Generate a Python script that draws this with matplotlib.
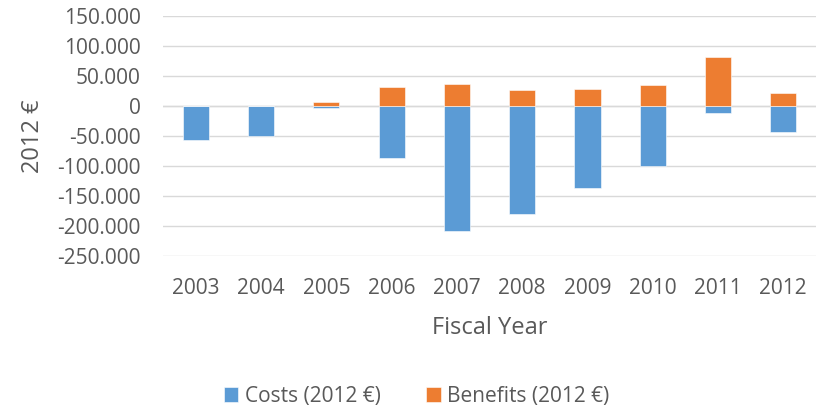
import numpy as np
import matplotlib.pyplot as plt
from matplotlib.ticker import FuncFormatter

plt.rcParams['font.family'] = ['Open Sans', 'DejaVu Sans']

# Yearly costs and benefits, in 2012 euros
years = ['2003', '2004', '2005', '2006', '2007',
         '2008', '2009', '2010', '2011', '2012']
costs = [-56000, -49500, -2800, -86700, -207800,
         -180600, -136100, -99400, -11700, -43300]
benefits = [0, 0, 6700, 31700, 36700,
            27200, 27800, 34400, 82200, 21700]

blue = '#5B9BD5'
orange = '#ED7D31'
text_col = '#595959'
grid_col = '#D9D9D9'

fig = plt.figure(figsize=(8.2, 4.12), dpi=100)
ax = fig.add_axes([0.199, 0.379, 0.796, 0.582])

x = np.arange(len(years))
ax.bar(x, costs, width=0.4, color=blue, edgecolor='white', linewidth=0.4,
       label='Costs (2012 €)', zorder=3)
ax.bar(x, benefits, width=0.4, color=orange, edgecolor='white', linewidth=0.4,
       label='Benefits (2012 €)', zorder=3)

ax.set_xlim(-0.5, len(years) - 0.5)
ax.set_ylim(-250000, 150000)
ax.set_yticks(np.arange(-250000, 150001, 50000))
ax.yaxis.set_major_formatter(
    FuncFormatter(lambda v, p: f'{v:,.0f}'.replace(',', '.')))
ax.set_xticks(x)
ax.set_xticklabels(years)

ax.grid(axis='y', color=grid_col, linewidth=1.0, zorder=0)
ax.axhline(0, color=grid_col, linewidth=1.0, zorder=1)
for s in ax.spines.values():
    s.set_visible(False)
ax.tick_params(axis='both', length=0, labelsize=15, colors=text_col)
ax.tick_params(axis='y', pad=16)
ax.tick_params(axis='x', pad=16)

ax.set_ylabel('2012 €', fontsize=17, color=text_col, labelpad=9)
ax.set_xlabel('Fiscal Year', fontsize=17, color=text_col, labelpad=12)

fig.legend(loc='center', bbox_to_anchor=(0.508, 0.038), ncol=2,
           frameon=False, fontsize=15, handlelength=0.7, handleheight=0.7,
           handletextpad=0.3, columnspacing=2.2, labelcolor=text_col)

fig.savefig('out.png', dpi=100)
